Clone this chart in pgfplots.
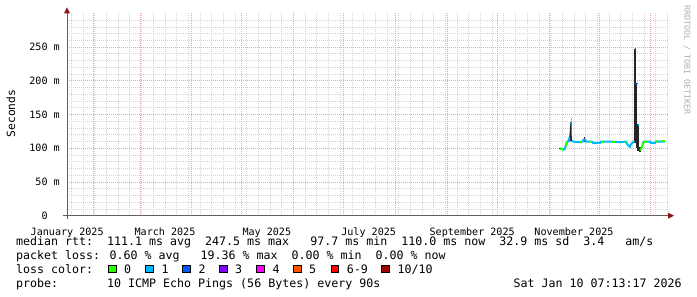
\documentclass[border=0pt]{standalone}
\usepackage{pgfplots}
\pgfplotsset{compat=1.18}
\usepackage{fontspec}
\setmainfont{DejaVu Sans Mono}
\definecolor{mgrid}{RGB}{232,165,165}
\definecolor{mingrid}{RGB}{212,212,212}
\definecolor{axc}{RGB}{95,95,95}
\definecolor{arrc}{RGB}{140,20,20}
\definecolor{smoke}{RGB}{38,38,38}
\definecolor{smokelt}{RGB}{170,170,170}
\definecolor{wm}{RGB}{175,175,175}
\definecolor{l0}{HTML}{26FF00}
\definecolor{l1}{HTML}{00B8FF}
\definecolor{l2}{HTML}{0059FF}
\definecolor{l3}{HTML}{7E00FF}
\definecolor{l4}{HTML}{FF00FF}
\definecolor{l5}{HTML}{FF5500}
\definecolor{l6}{HTML}{FF0000}
\definecolor{l10}{HTML}{A10000}
\newcommand{\lfont}{\fontsize{11.63}{14}\selectfont}
\newcommand{\tfont}{\fontsize{10.1}{12}\selectfont}
\begin{document}
\begin{tikzpicture}[x=1pt,y=1pt]
\path[use as bounding box, fill=white] (0,0) rectangle (697,297);
\begin{axis}[
  at={(67pt,81.3pt)}, anchor=south west,
  scale only axis, width=601pt, height=202.2pt,
  xmin=15.3, xmax=375.3, ymin=0, ymax=300,
  axis line style={draw=none},
  major tick length=0pt, minor tick length=0pt,
  xtick={15.4,74,135,196,258,319},
  xticklabels={January 2025,March 2025,May 2025,July 2025,September 2025,November 2025},
  xticklabel style={font=\tfont, anchor=base, yshift=-19.8pt, inner sep=0pt},
  extra x ticks={31,59,90,120,151,181,212,243,273,304,334,365},
  extra x tick labels={},
  extra x tick style={grid=major},
  minor xtick={18,25,...,375},
  xminorgrids=true,
  ytick={0,50,100,150,200,250},
  yticklabels={0\phantom{~m},50 m,100 m,150 m,200 m,250 m},
  yticklabel style={font=\tfont, anchor=east, inner sep=0pt, xshift=-7pt},
  ymajorgrids=true, yminorgrids=true,
  minor ytick={10,20,30,40,60,70,80,90,110,120,130,140,160,170,180,190,210,220,230,240,260,270,280,290},
  major grid style={mgrid, dash pattern=on 1pt off 1pt, line width=0.9pt},
  minor grid style={mingrid, dash pattern=on 1pt off 1pt, line width=0.9pt},
]
% smoke
\addplot[fill=smoke, draw=none] coordinates {(310.3,98.5) (310.3,100.5) (311.4,100.5) (311.4,98.5)} -- cycle;
\addplot[fill=smoke, draw=none] coordinates {(315.8,110) (316.2,118) (316.5,126) (316.7,139) (317.5,139) (317.7,111)} -- cycle;
\addplot[fill=smokelt, draw=none] coordinates {(316.9,139) (316.9,145) (317.3,145) (317.3,139)} -- cycle;
\addplot[fill=smoke, draw=none] coordinates {(324.8,110) (324.8,117) (325.4,117) (325.4,110)} -- cycle;
\addplot[fill=smoke, draw=none] coordinates {(352.3,101) (352.3,104) (352.8,104) (352.8,101)} -- cycle;
\addplot[fill=smoke, draw=none] coordinates {(354.9,108) (354.9,248) (356.1,248) (356.1,108)} -- cycle;
\addplot[fill=smoke, draw=none] coordinates {(356.1,100) (356.1,197) (356.9,197) (356.9,100)} -- cycle;
\addplot[fill=smoke, draw=none] coordinates {(356.9,96) (356.9,136) (358.1,136) (358.1,96)} -- cycle;
\addplot[fill=smoke, draw=none] coordinates {(358.1,94) (358.1,102) (359.0,102) (359.0,94)} -- cycle;
\addplot[fill=smoke, draw=none] coordinates {(359.6,100) (359.6,106) (360.3,106) (360.3,100)} -- cycle;
% median, loss 1
\addplot[l1, line width=2pt] coordinates {(310.6,99.5) (311.6,99) (312.6,98) (313.4,98.5) (314.0,103) (314.6,108) (315.2,110) (315.8,112) (316.4,116)};
\addplot[l1, line width=2pt] coordinates {(316.8,136) (317.3,137)};
\addplot[l1, line width=2pt] coordinates {(317.7,111) (318.3,110) (320.2,109.5) (322.6,109) (324.2,110) (324.8,113) (325.6,113) (326.2,110) (329.8,110) (330.4,108) (334.6,108) (335.2,110) (341.8,110) (346.5,109) (350.1,110) (350.7,107) (351.3,104.5) (352.5,102.5) (353.1,106) (354.3,108.5) (355.0,111)};
\addplot[l1, line width=2pt] coordinates {(357.1,134) (357.8,134)};
\addplot[l1, line width=2pt] coordinates {(360.3,108) (361,110) (364.5,110) (365,108) (367.5,108) (368,110) (373.5,110)};
% median, loss 2
\addplot[l2, line width=2pt] coordinates {(355.3,247.5) (356.0,247.5)};
\addplot[l2, line width=2pt] coordinates {(356.3,197) (356.8,195)};
% median, loss 0
\addplot[l0, line width=2pt] coordinates {(310.6,99.5) (311.6,99) (312.6,98)};
\addplot[l0, line width=2pt] coordinates {(314.0,103) (314.6,108) (315.2,110)};
\addplot[l0, line width=2pt] coordinates {(322.6,109) (323.4,109.3)};
\addplot[l0, line width=2pt] coordinates {(328.0,110) (329.8,110)};
\addplot[l0, line width=2pt] coordinates {(336.0,110) (337.2,110)};
\addplot[l0, line width=2pt] coordinates {(341.8,110) (343.6,110)};
\addplot[l0, line width=2pt] coordinates {(349.5,110) (350.4,108.5)};
\addplot[l0, line width=2pt] coordinates {(358.3,97.7) (359.0,98) (359.6,101) (360.3,108)};
\addplot[l0, line width=2pt] coordinates {(361.0,110) (363.0,110)};
\addplot[l0, line width=2pt] coordinates {(368.0,110) (369.5,110.5)};
\addplot[l0, line width=2pt] coordinates {(371.0,110.5) (373.5,110.5)};
\end{axis}
% axes
\draw[axc, line width=1pt] (63,81.3) -- (669,81.3);
\fill[arrc] (668,78.3) -- (674,81.3) -- (668,84.3) -- cycle;
\draw[axc, line width=1pt] (67,78) -- (67,284);
\fill[arrc] (64,283.5) -- (67,289.5) -- (70,283.5) -- cycle;
% labels
\node[rotate=90, font=\fontsize{11.3}{13}\selectfont] at (10.8,183.5) {Seconds};
\node[rotate=-90, font=\fontsize{8.3}{10}\selectfont, text=wm] at (687,237) {RRDTOOL / TOBI OETIKER};
% legend
\node[anchor=base west, inner sep=0pt, font=\lfont] at (16,51.3) {median rtt:~~111.1 ms avg~~247.5 ms max~~~97.7 ms min~~110.0 ms now~~32.9 ms sd~~3.4~~~am/s};
\node[anchor=base west, inner sep=0pt, font=\lfont] at (16,37.7) {packet loss: 0.60 \% avg~~~19.36 \% max~~0.00 \% min~~0.00 \% now};
\node[anchor=base west, inner sep=0pt, font=\lfont] at (16,23.7) {loss color:};
\foreach \bx/\bc/\bl in {108.3/l0/0, 145.7/l1/1, 182.7/l2/2, 219.3/l3/3, 256.7/l4/4, 293.3/l5/5, 331/l6/6-9, 381.7/l10/10\slash 10}{
  \filldraw[fill=\bc, draw=black, line width=0.8pt] (\bx,24.2) rectangle ++(7.6,7.6);
  \node[anchor=base west, inner sep=0pt, font=\lfont] at (\bx+15.7,23.7) {\bl};
}
\node[anchor=base west, inner sep=0pt, font=\lfont] at (16,9.7) {probe:~~~~~~~10 ICMP Echo Pings (56 Bytes) every 90s};
\node[anchor=base west, inner sep=0pt, font=\lfont] at (513.3,9.7) {Sat Jan 10 07:13:17 2026};
\end{tikzpicture}
\end{document}
